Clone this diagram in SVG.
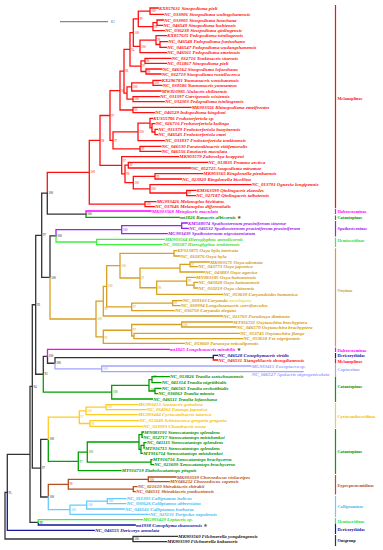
<svg xmlns="http://www.w3.org/2000/svg" width="383" height="550" viewBox="0 0 383 550">
<style>
.t{font-family:"Liberation Serif",serif;font-size:4.9px;font-style:italic;font-weight:bold}
.b{font-family:"Liberation Serif",serif;font-size:3px}
.g{font-family:"Liberation Serif",serif;font-size:4.3px;font-weight:bold}
.st{font-family:"DejaVu Sans",sans-serif;font-style:normal;fill:#555}
.e{fill:none;stroke-width:1.3;stroke-linecap:square}
.bar{stroke-width:1.2}
.sR{stroke:#ff1010}.fR{fill:#ff1010}
.sP{stroke:#ff00ff}.fP{fill:#ff00ff}
.sG{stroke:#00a000}.fG{fill:#009000}
.sV{stroke:#a020f0}.fV{fill:#a020f0}
.sH{stroke:#3ef03e}.fH{fill:#30e030}
.sO{stroke:#d8a020}.fO{fill:#d49a10}
.sN{stroke:#1414a0}.fN{fill:#1414a0}
.sL{stroke:#a4a4ff}.fL{fill:#9c9cff}
.sY{stroke:#ffcc22}.fY{fill:#f5c000}
.sB{stroke:#b4501e}.fB{fill:#b4501e}
.sC{stroke:#66ccff}.fC{fill:#44bbf0}
.sK{stroke:#333}.fK{fill:#111}
</style>
<rect width="383" height="550" fill="#fff"/>
<g id="scale">
<line x1="60" y1="21.7" x2="108" y2="21.7" stroke="#888" stroke-width="1.3"/>
<text class="b" x="111" y="23" fill="#333" font-style="italic">0.1</text>
</g>
<g id="connectors">
<path class="e sR" d="M150,8V14.3M150,8H158.2M150,14.3H163.2M157,20V25.3M157,20H163.2M157,25.3H162.5M153,22.65V30.7M153,22.65H157M153,30.7H164.2M138.3,11.15V26.7M138.3,11.15H150M138.3,26.7H153M160,41.7V47.3M160,41.7H167.5M160,47.3H166.5M156,35.7V44.5M156,35.7H166.5M156,44.5H160M140,40.1V52.7M140,40.1H156M140,52.7H166.5M133.3,18.9V46.4M133.3,18.9H138.3M133.3,46.4H140M145,58.3V63.3M145,58.3H170.9M145,63.3H166.5M146,69V74M146,69H161.9M146,74H160.9M141,60.8V71.5M141,60.8H145M141,71.5H146M130,32.65V66.15M130,32.65H133.3M130,66.15H141M153,80.3V85.3M153,80.3H160.9M153,85.3H161.9M131.7,82.8V91M131.7,82.8H153M131.7,91H160.9M133,96.7V101.7M133,96.7H159.2M133,101.7H164.2M127,86.9V99.2M127,86.9H131.7M127,99.2H133M124,49.4V93.05M124,49.4H130M124,93.05H127M133,107.3V112.7M133,107.3H190.9M133,112.7H154.2M120,71.2V110M120,71.2H124M120,110H133M155,129.3V134.7M155,129.3H157.5M155,134.7H157.5M152,123.7V132M152,123.7H154.9M152,132H155M150,118.3V127.85M150,118.3H152.5M150,127.85H152M138,123.1V140.7M138,123.1H150M138,140.7H164.2M140,146.3V151.3M140,146.3H160.9M140,151.3H160.9M113,131.9V148.8M113,131.9H138M113,148.8H140M110,90.6V140.35M110,90.6H120M110,140.35H113M128.3,162.3V168M128.3,162.3H207.5M128.3,168H190.9M155,173.7V179M155,173.7H202.5M155,179H181.5M186.7,190.3V195.7M186.7,190.3H195.9M186.7,195.7H195.2M150,184.7V193M150,184.7H250.9M150,193H186.7M133.3,176.35V188.85M133.3,176.35H155M133.3,188.85H150M125,165.15V182.6M125,165.15H128.3M125,182.6H133.3M121.7,156.7V173.9M121.7,156.7H178.5M121.7,173.9H125M100,115.5V165.3M100,115.5H110M100,165.3H121.7M145,201.7V206.7M145,201.7H155.9M145,206.7H154.2M89.3,140.4V204.2M89.3,140.4H100M89.3,204.2H145M47.3,172.3V193.2M47.3,172.3H89.3M213.3,357.65V360M213.3,360H217.5"/>
<path class="e sK" d="M5,492.35V539M5,492.35H7.3M5,539H133M133,536.3V541.7M133,536.3H177.5M133,541.7H166.5M7.3,454.4V492.35M7.3,454.4H30M30,386.45V522.35M30,386.45H32.3M30,522.35H38.3M32.3,304.75V468.15M32.3,304.75H35.7M32.3,468.15H40.7M35.7,235.3V374.25M35.7,235.3H41.7M35.7,374.25H43.3M41.7,193.2V277.4M41.7,193.2H47.3M41.7,277.4H50M47.3,193.2V214.15M47.3,214.15H86M50,235.85V277.4M50,235.85H56M43.3,356.3V374.25M43.3,356.3H47.5M47.5,356.3V363.25M47.5,363.25H55M55,357.65V363.25M55,357.65H213.3M40.7,439.3V497M40.7,439.3H48.3M40.7,497H48.3"/>
<path class="e sN" d="M38.3,522.35V525M38.3,525H135.2M7.3,492.35V530.3M7.3,530.3H94.2M213.3,355.3V357.65M213.3,355.3H217.5"/>
<path class="e sP" d="M86,211V214.15M86,211H151M47.5,349.3V356.3M47.5,349.3H169.2"/>
<path class="e sG" d="M86,214.15V217.3M86,217.3H179.2M43.3,374.25V392.2M43.3,392.2H111.7M111.7,385.35V399M111.7,385.35H149M111.7,399H152.5M149,379.7V391M149,379.7H152M149,391H155M152,376.7V382.7M152,376.7H169.2M152,382.7H160.9M155,388.3V393.7M155,388.3H160.9M155,393.7H157.5M48.3,439.3V461.4M48.3,461.4H78.3M78.3,452.1V470.7M78.3,452.1H87.3M78.3,470.7H120.9M87.3,441.98V462.2M87.3,441.98H139M87.3,462.2H151M139,434.65V449.3M139,434.65H142M139,449.3H141M142,432V437.3M142,432H143.5M142,437.3H142.5M141,445.35V453.3M141,445.35H144M141,453.3H142.5M144,442.7V448M144,442.7H145.9M144,448H144.2M151,459.7V464.7M151,459.7H151.9M151,464.7H153.5"/>
<path class="e sV" d="M56,229.7V235.85M56,229.7H121.7M121.7,225.65V233.7M121.7,225.65H181.7M121.7,233.7H167.2M181.7,223V228.3M181.7,223H187.2M181.7,228.3H188.2"/>
<path class="e sH" d="M56,235.85V242M56,242H96.7M96.7,239.3V244.7M96.7,239.3H164.2M96.7,244.7H161.9M38.3,519.7V522.35M38.3,519.7H142.5"/>
<path class="e sO" d="M50,277.4V318.98M50,318.98H96M96,301.15V336.8M96,301.15H103.3M96,336.8H103.3M103.3,286.3V316M103.3,286.3H106.7M103.3,316H222.5M106.7,265.7V306.95M106.7,265.7H120M106.7,306.95H131.7M120,253.35V277.98M120,253.35H174M120,277.98H140M174,250.7V256M174,250.7H176.5M174,256H179.9M140,268.2V287.75M140,268.2H180M140,287.75H156.7M180,264.35V272M180,264.35H190M180,272H204.2M190,262V266.7M190,262H209.2M190,266.7H197.5M156.7,281.2V294.3M156.7,281.2H186.7M156.7,294.3H222.5M186.7,277.3V285.15M186.7,277.3H195.2M186.7,285.15H194M194,282.3V288M194,282.3H197.5M194,288H197.5M131.7,303.2V310.7M131.7,303.2H172.7M131.7,310.7H174.2M172.7,300.7V305.7M172.7,300.7H181.9M172.7,305.7H179.9M103.3,330.25V343.3M103.3,330.25H131.7M103.3,343.3H184.2M131.7,324.5V336M131.7,324.5H181.7M131.7,336H134M181.7,322V327M181.7,322H232.5M181.7,327H235.9M134,333.3V338.7M134,333.3H239.2M134,338.7H242.5"/>
<path class="e sL" d="M55,363.25V368.85M55,368.85H101.7M101.7,366V371.7M101.7,366H250.9M101.7,371.7H303"/>
<path class="e sY" d="M48.3,417.2V439.3M48.3,417.2H79.3M79.3,410.95V423.5M79.3,410.95H86M79.3,423.5H90M86,407.2V414.7M86,407.2H106M86,414.7H137.5M106,404.7V409.7M106,404.7H137.5M106,409.7H145.9M90,420.7V426.3M90,420.7H138.5M90,426.3H142.5"/>
<path class="e sB" d="M48.3,484.3V497M48.3,484.3H68.3M68.3,479.35V489.2M68.3,479.35H148.3M68.3,489.2H133.3M148.3,477V481.7M148.3,477H175.9M148.3,481.7H169.2M133.3,486.7V491.7M133.3,486.7H136.9M133.3,491.7H135.2"/>
<path class="e sC" d="M48.3,497V509.7M48.3,509.7H70M70,505.1V514.3M70,505.1H86.7M70,514.3H149.2M86.7,501.2V509M86.7,501.2H107.3M86.7,509H124.2M107.3,498.7V503.7M107.3,498.7H125.9M107.3,503.7H125.9"/>
</g>
<g id="support">
<g class="b fR">
<text x="151.2" y="12.3">100</text><text x="154.2" y="27.8">98</text><text x="139.5" y="20">99</text><text x="157.2" y="41.2">98</text><text x="141.2" y="47.5">100</text><text x="134.5" y="33.8">100</text><text x="131.2" y="50.5">94</text><text x="146.2" y="61.9">98</text><text x="147.2" y="72.6">99</text><text x="142.2" y="67.3">97</text><text x="125.2" y="72.3">96</text><text x="154.2" y="83.9">100</text><text x="132.9" y="88">100</text><text x="134.2" y="100.3">100</text><text x="121.2" y="91.7">94</text><text x="134.2" y="111.1">99</text><text x="139.2" y="133">100</text><text x="141.2" y="149.9">99</text><text x="114.2" y="141.5">97</text><text x="111.2" y="116.6">97</text><text x="129.5" y="166.3">99</text><text x="156.2" y="177.5">99</text><text x="187.9" y="194.1">99</text><text x="151.2" y="190">100</text><text x="134.5" y="183.7">100</text><text x="126.2" y="175">98</text><text x="122.9" y="161.5">97</text><text x="101.2" y="141.5">98</text><text x="146.2" y="205.3">100</text><text x="90.5" y="173.4">100</text>
</g>
<g class="b fK">
<text x="48.5" y="194.3">100</text><text x="87.2" y="215.3">100</text><text x="42.9" y="236.4">97</text><text x="51.2" y="278.5">100</text><text x="57.2" y="237">100</text><text x="36.9" y="305.9">93</text><text x="44.5" y="375.4">93</text><text x="48.7" y="357.4">100</text><text x="56.2" y="364.4">100</text><text x="33.5" y="387.6">94</text><text x="41.9" y="469.3">97</text><text x="39.5" y="523.5">99</text><text x="8.5" y="493.5">95</text><text x="134.2" y="540.1">100</text><text x="49.5" y="440.4">100</text><text x="49.5" y="498.1">100</text>
</g>
<g class="b fV"><text x="122.9" y="230.8">100</text></g>
<g class="b fO">
<text x="97.2" y="320.1">100</text><text x="104.5" y="310">95</text><text x="107.9" y="287.4">100</text><text x="121.2" y="266.8">100</text><text x="141.2" y="279.1">91</text><text x="157.9" y="288.9">98</text><text x="187.9" y="282.3">99</text><text x="191.2" y="265.5">97</text><text x="132.9" y="308.1">97</text><text x="173.9" y="304.3">99</text><text x="104.5" y="339">91</text><text x="132.9" y="331.4">97</text><text x="182.9" y="325.6">100</text>
</g>
<g class="b fL"><text x="102.9" y="370">100</text></g>
<g class="b fG">
<text x="112.9" y="393.3">100</text><text x="153.2" y="378.3">97</text><text x="150.2" y="390.5">100</text><text x="88.5" y="453.2">100</text><text x="79.5" y="462.5">97</text>
</g>
<g class="b fY">
<text x="80.5" y="418.3">97</text><text x="107.2" y="408.3">100</text><text x="87.2" y="412.1">100</text><text x="91.2" y="424.6">98</text>
</g>
<g class="b fB"><text x="69.5" y="485.4">98</text><text x="149.5" y="480.5">100</text></g>
<g class="b fC"><text x="71.2" y="510.8">100</text><text x="108.5" y="502.3">100</text><text x="87.9" y="506.2">100</text></g>
</g>
<g id="taxa-melanoplinae" class="t fR">
<g id="n01"><text x="159" y="9.7">KX857631 Sinopodisma pieli</text></g>
<g id="n02"><text x="164" y="16">NC_033906 Sinopodisma wulingshanensis</text></g>
<g id="n03"><text x="164" y="21.7">NC_033905 Sinopodisma houshana</text></g>
<g id="n04"><text x="163.3" y="27">NC_046549 Sinopodisma lushiensis</text></g>
<g id="n05"><text x="165" y="32.4">NC_036238 Sinopodisma qinlingensis</text></g>
<g id="n06"><text x="167.3" y="37.4">KX857635 Pedopodisma tsinlingensis</text></g>
<g id="n07"><text x="168.3" y="43.4">NC_046548 Pedopodisma funiushana</text></g>
<g id="n08"><text x="167.3" y="49">NC_046547 Pedopodisma wudangshanensis</text></g>
<g id="n09"><text x="167.3" y="54.4">NC_046561 Pedopodisma emeiensis</text></g>
<g id="n10"><text x="171.7" y="60">NC_032716 Tonkinacris sinensis</text></g>
<g id="n11"><text x="167.3" y="65">NC_051867 Sinopodisma pieli</text></g>
<g id="n12"><text x="162.7" y="70.7">NC_046562 Sinopodisma lofaoshana</text></g>
<g id="n13"><text x="161.7" y="75.7">NC_032719 Sinopodisma rostellocerca</text></g>
<g id="n14"><text x="161.7" y="82">KX296781 Yunnanacris wenshanensis</text></g>
<g id="n15"><text x="162.7" y="87">NC_030586 Yunnanacris yunnaneus</text></g>
<g id="n16"><text x="161.7" y="92.7">MW810985 Alulacris shilinensis</text></g>
<g id="n17"><text x="160" y="98.4">NC_031397 Curvipennis wixiensis</text></g>
<g id="n18"><text x="165" y="103.4">NC_032303 Pedopodisma tsinlingensis</text></g>
<g id="n19"><text x="191.7" y="109">MK903556 Rhinopodisma emeifrontes</text></g>
<g id="n20"><text x="155" y="114.4">NC_046529 Indopodisma kingdoni</text></g>
<g id="n21"><text x="153.3" y="120">KU355786 Fruhstorferiola sp.</text></g>
<g id="n22"><text x="155.7" y="125.4">NC_026716 Fruhstorferiola kulinga</text></g>
<g id="n23"><text x="158.3" y="131">NC_031379 Fruhstorferiola huayinensis</text></g>
<g id="n24"><text x="158.3" y="136.4">NC_046545 Fruhstorferiola omei</text></g>
<g id="n25"><text x="165" y="142.4">NC_031837 Fruhstorferiola tonkinensis</text></g>
<g id="n26"><text x="161.7" y="148">NC_046530 Paratonkinacris vittifemoralis</text></g>
<g id="n27"><text x="161.7" y="153">NC_046556 Emeiacris maculata</text></g>
<g id="n28"><text x="179.3" y="158.4">MK903579 Zubovskya koeppeni</text></g>
<g id="n29"><text x="208.3" y="164">NC_013835 Prumna arctica</text></g>
<g id="n30"><text x="191.7" y="169.7">NC_052725 Anapodisma miramae</text></g>
<g id="n31"><text x="203.3" y="175.4">MK903565 Kingdonella pienbaensis</text></g>
<g id="n32"><text x="182.3" y="180.7">NC_023920 Kingdonella bicollina</text></g>
<g id="n33"><text x="251.7" y="186.4">NC_013701 Ognevia longipennis</text></g>
<g id="n34"><text x="196.7" y="192">KM363599 Qinlingacris elaeodes</text></g>
<g id="n35"><text x="196" y="197.4">NC_027187 Qinlingacris taibaiensis</text></g>
<g id="n36"><text x="156.7" y="203.4">MG993426 Melanoplus bivittatus</text></g>
<g id="n37"><text x="155" y="208.4">NC_037646 Melanoplus differentialis</text></g>
</g>
<g id="taxa-mid" class="t">
<g id="n38"><text class="fP" x="151.7" y="212.7">MK903568 Menglacris maculata</text></g>
<g id="n39"><text class="fG" x="180" y="219">mt1826 Ranacris albicornis <tspan class="st">★</tspan></text></g>
<g id="n40"><text class="fV" x="188" y="224.7">KM588074 Spathosternum prasiniferum sinense</text></g>
<g id="n41"><text class="fV" x="189" y="230">NC_046532 Spathosternum prasiniferum prasiniferum</text></g>
<g id="n42"><text class="fV" x="168" y="235.4">MG993439 Spathosternum nigrotaeniatum</text></g>
<g id="n43"><text class="fH" x="165" y="241">MK903564 Hieroglyphus annulicornis</text></g>
<g id="n44"><text class="fH" x="162.7" y="246.4">NC_030587 Hieroglyphus tonkinensis</text></g>
</g>
<g id="taxa-oxyinae" class="t fO">
<g id="n45"><text x="177.3" y="252.4">KP313875 Oxya hyla intricata</text></g>
<g id="n46"><text x="180.7" y="257.7">NC_032876 Oxya hyla</text></g>
<g id="n47"><text x="210" y="263.7">MK903571 Oxya adentata</text></g>
<g id="n48"><text x="198.3" y="268.4">NC_043773 Oxya japonica</text></g>
<g id="n49"><text x="205" y="273.7">NC_043883 Oxya agavisa</text></g>
<g id="n50"><text x="196" y="279">MN083185 Oxya hainanensis</text></g>
<g id="n51"><text x="198.3" y="284">NC_045928 Oxya hainanensis</text></g>
<g id="n52"><text x="198.3" y="289.7">NC_010219 Oxya chinensis</text></g>
<g id="n53"><text x="223.3" y="296">NC_053639 Caryandoides humanica</text></g>
<g id="n54"><text x="182.7" y="302.4">NC_030163 Caryanda <tspan fill="#e4dc50">neoelegans</tspan></text></g>
<g id="n55"><text x="180.7" y="307.4">NC_030994 Longchuanacris curvifurculus</text></g>
<g id="n56"><text x="175" y="312.4">NC_036750 Caryanda elegans</text></g>
<g id="n57"><text x="223.3" y="317.7">NC_021765 Pseudoxya diminuta</text></g>
<g id="n58"><text x="233.3" y="323.7">MT916721 Oxytauchira brachyptera</text></g>
<g id="n59"><text x="236.7" y="328.7">NC_046570 Oxytauchira brachyptera</text></g>
<g id="n60"><text x="240" y="335">NC_053745 Oxytauchira flange</text></g>
<g id="n61"><text x="243.3" y="340.4">NC_053658 Fer nigripennis</text></g>
<g id="n62"><text x="185" y="345">NC_053660 Paraoxya reticulipennis</text></g>
</g>
<g id="taxa-lower" class="t">
<g id="n63"><text class="fP" x="170" y="351">mt1825 Longzhouacris mirabilis <tspan class="st">★</tspan></text></g>
<g id="n64"><text class="fN" x="218.3" y="357">NC_046528 Conophymacris viridis</text></g>
<g id="n65"><text class="fR" x="218.3" y="361.7">NC_046531 Xiangelilacris zhongdianensis</text></g>
<g id="n66"><text class="fL" x="251.7" y="367.7">MG993415 Eucoptacra sp.</text></g>
<g id="n67"><text class="fL" x="251.7" y="376">NC_046527 Apalacris nigrogeniculata</text></g>
<g id="n68"><text class="fG" x="170" y="378.4">NC_013826 Traulia szetschuanensis</text></g>
<g id="n69"><text class="fG" x="161.7" y="384.4">NC_041314 Traulia nigritibialis</text></g>
<g id="n70"><text class="fG" x="161.7" y="390">NC_046565 Traulia orchotibialis</text></g>
<g id="n71"><text class="fG" x="158.3" y="395.4">NC_036063 Traulia minuta</text></g>
<g id="n72"><text class="fG" x="153.3" y="400.7">NC_046511 Traulia lofaoshana</text></g>
<g id="n73"><text class="fY" x="138.3" y="406.4">MG993413 Austracris guttulosa</text></g>
<g id="n74"><text class="fY" x="146.7" y="411.4">NC_034062 Patanga japonica</text></g>
<g id="n75"><text class="fY" x="138.3" y="416.4">MG993444 Cyrtacanthacris tatarica</text></g>
<g id="n76"><text class="fY" x="139.3" y="422.4">NC_013240 Schistocerca gregaria gregaria</text></g>
<g id="n77"><text class="fY" x="143.3" y="428">NC_023093 Chondracris rosea</text></g>
<g id="n78"><text class="fG" x="144.3" y="433.7">MN083191 Stenocatantops splendens</text></g>
<g id="n79"><text class="fG" x="143.3" y="439">NC_052717 Stenocatantops mistshenkoi</text></g>
<g id="n80"><text class="fG" x="146.7" y="444.4">NC_041115 Stenocatantops splendens</text></g>
<g id="n81"><text class="fG" x="145" y="449.7">MT916715 Stenocatantops splendens</text></g>
<g id="n82"><text class="fG" x="143.3" y="455">MT916714 Stenocatantops mistshenkoi</text></g>
<g id="n83"><text class="fG" x="152.7" y="461.4">MT916716 Xenocatantops brachycerus</text></g>
<g id="n84"><text class="fG" x="154.3" y="466.4">NC_021609 Xenocatantops brachycerus</text></g>
<g id="n85"><text class="fG" x="121.7" y="472.4">MT916719 Diabolocatantops pinguis</text></g>
<g id="n86"><text class="fB" x="176.7" y="478.7">MK903539 Choroedocus violaceipes</text></g>
<g id="n87"><text class="fB" x="170" y="483.4">MN046212 Choroedocus capensis</text></g>
<g id="n88"><text class="fB" x="137.7" y="488.4">NC_021610 Shirakiacris shirakii</text></g>
<g id="n89"><text class="fB" x="136" y="493.4">NC_046531 Shirakiacris yunkweiensis</text></g>
<g id="n90"><text class="fC" x="126.7" y="500.4">NC_011305 Calliptamus italicus</text></g>
<g id="n91"><text class="fC" x="126.7" y="505.4">NC_030626 Calliptamus abbreviatus</text></g>
<g id="n92"><text class="fC" x="125" y="510.7">NC_046541 Calliptamus barbarus</text></g>
<g id="n93"><text class="fC" x="150" y="516">NC_025131 Peripolus nepalensis</text></g>
<g id="n94"><text class="fH" x="143.3" y="521.4">MG993429 Leptacris sp.</text></g>
<g id="n95"><text class="fN" x="136" y="526.7">mt1938 Conophyma zhaosuensis <tspan class="st">★</tspan></text></g>
<g id="n96"><text class="fN" x="95" y="532">NC_046555 Dericorys annulata</text></g>
<g id="n97"><text class="fK" x="178.3" y="538">MK903560 Filchnerella yongdengensis</text></g>
<g id="n98"><text class="fK" x="167.3" y="543.4">MK903590 Filchnerella kukunoris</text></g>
</g>
<g id="groups">
<path class="bar sR" d="M335.5,5V208M335.5,358.5V363.5"/>
<path class="bar sP" d="M335.5,208.8V214M335.5,347.5V352"/>
<path class="bar sG" d="M335.5,215.5V220M335.5,376.5V402M335.5,429V474"/>
<path class="bar sV" d="M335.5,221V236.5"/>
<path class="bar sH" d="M335.5,237.7V247M335.5,518V523"/>
<path class="bar sO" d="M335.5,248.3V346.5"/>
<path class="bar sN" d="M335.5,353V358M335.5,523.5V534"/>
<path class="bar sL" d="M335.5,364V376"/>
<path class="bar sY" d="M335.5,403V428"/>
<path class="bar sB" d="M335.5,475V494.5"/>
<path class="bar sC" d="M335.5,496V517"/>
<path class="bar sK" d="M335.5,535V546"/>
<text class="g fR" x="337.5" y="100.2">Melanoplinae</text>
<text class="g fP" x="337.5" y="212.8">Habrocneminae</text>
<text class="g fG" x="337.5" y="219.2">Catantopinae</text>
<text class="g fV" x="337.5" y="229.8">Spathosterninae</text>
<text class="g fH" x="337.5" y="241.5">Hemiacridinae</text>
<text class="g fO" x="337.5" y="291.5">Oxyinae</text>
<text class="g fP" x="337.5" y="351.5">Habrocneminae</text>
<text class="g fN" x="337.5" y="357.2">Dericorythidae</text>
<text class="g fR" x="337.5" y="362.5">Melanoplinae</text>
<text class="g fL" x="337.5" y="370.5">Coptacrinae</text>
<text class="g fG" x="337.5" y="388.2">Catantopinae</text>
<text class="g fY" x="337.5" y="417.5">Cyrtacanthacridinae</text>
<text class="g fG" x="337.5" y="452.5">Catantopinae</text>
<text class="g fB" x="337.5" y="486.5">Eyprepocnemidinae</text>
<text class="g fC" x="337.5" y="507.5">Calliptaminae</text>
<text class="g fH" x="337.5" y="522.5">Hemiacridinae</text>
<text class="g fN" x="337.5" y="530.5">Dericorythidae</text>
<text class="g fK" x="337.5" y="542.2">Outgroup</text>
</g>
</svg>
